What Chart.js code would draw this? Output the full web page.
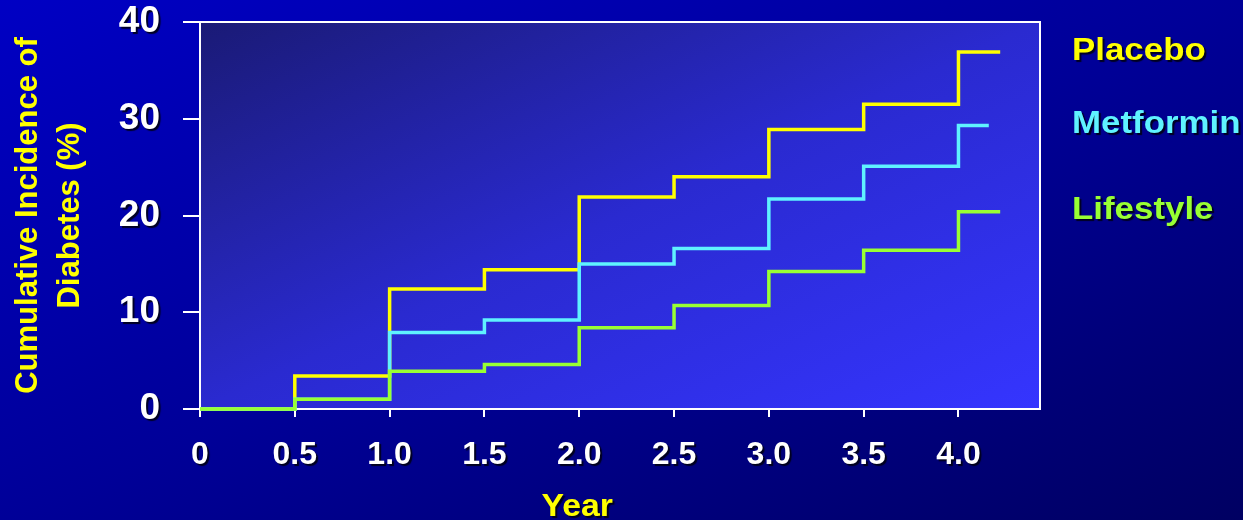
<!DOCTYPE html>
<html>
<head>
<meta charset="utf-8">
<script src="https://cdn.jsdelivr.net/npm/chart.js@4.4.1/dist/chart.umd.min.js"></script>
<style>
  html, body { margin: 0; padding: 0; }
  body {
    width: 1243px; height: 520px; overflow: hidden;
    background: linear-gradient(to bottom right, #0000c4 0%, #000098 50%, #000062 100%);
  }
  canvas { display: block; }
</style>
</head>
<body>
<canvas id="chart" width="1243" height="520"></canvas>
<script>
// Cumulative incidence of diabetes by treatment arm (step curves)
const years = [0, 0.5, 1.0, 1.5, 2.0, 2.5, 3.0, 3.5, 4.0];
const xTickLabels = ['0', '0.5', '1.0', '1.5', '2.0', '2.5', '3.0', '3.5', '4.0'];
const yTickValues = [0, 10, 20, 30, 40];
const yTickLabels = ['0', '10', '20', '30', '40'];

const seriesNames = ['Placebo', 'Metformin', 'Lifestyle'];
const placebo   = [0, 3.4, 12.4, 14.4, 21.9, 24.0, 28.9, 31.5, 36.9];
const metformin = [0, 1.0,  7.9,  9.2, 15.0, 16.6, 21.7, 25.1, 29.3];
const lifestyle = [0, 1.0,  3.9,  4.6,  8.4, 10.7, 14.2, 16.4, 20.4];
const lastFollowUp = [4.22, 4.16, 4.22];   // end of follow-up for each arm, years

const seriesValues = [placebo, metformin, lifestyle];
const seriesColors = ['#ffff00', '#5ff2ff', '#99ff33'];
const FONT = '"Liberation Sans", Arial, Helvetica, sans-serif';
const TEXT_WIDEN = 1.09;   // slightly widened lettering for the annotation text

function toSteps(values, endYear) {
  const pts = years.map((x, i) => ({ x: x, y: values[i] }));
  pts.push({ x: endYear, y: values[values.length - 1] });
  return pts;
}

function wideText(ctx, text, x, y, align) {
  ctx.save();
  ctx.translate(x, y);
  ctx.scale(TEXT_WIDEN, 1);
  ctx.textAlign = align;
  ctx.fillText(text, 0, 0);
  ctx.restore();
}

const plotFrame = {
  id: 'plotFrame',
  beforeDraw(chart) {
    const { ctx, chartArea: { left, top, right, bottom } } = chart;
    const w = right - left, h = bottom - top;
    const s = 2 * w * h / (w * w + h * h);
    const g = ctx.createLinearGradient(left, top, left + h * s, top + w * s);
    g.addColorStop(0, '#1a1a76');
    g.addColorStop(0.5, '#2a2ad0');
    g.addColorStop(1, '#3535ff');
    ctx.save();
    ctx.fillStyle = g;
    ctx.fillRect(left, top, w, h);
    ctx.restore();
  },
  afterDatasetsDraw(chart) {
    const { ctx, chartArea: { left, top, right, bottom } } = chart;
    ctx.save();
    ctx.strokeStyle = '#ffffff';
    ctx.lineWidth = 2;
    ctx.beginPath();
    ctx.moveTo(left, top);
    ctx.lineTo(right, top);
    ctx.lineTo(right, bottom + 1);
    ctx.stroke();
    ctx.restore();
    // tick labels (drawn next, z = 1) get a drop shadow
    ctx.save();
    ctx.shadowColor = 'rgba(0,0,20,0.9)';
    ctx.shadowOffsetX = 2;
    ctx.shadowOffsetY = 2;
    ctx.shadowBlur = 1;
  },
  afterDraw(chart) {
    const { ctx, scales: { x, y } } = chart;
    ctx.restore();
    ctx.save();
    ctx.shadowColor = 'rgba(0,0,20,0.9)';
    ctx.shadowOffsetX = 2;
    ctx.shadowOffsetY = 2;
    ctx.shadowBlur = 1;

    // x-axis title
    ctx.font = 'bold 31px ' + FONT;
    ctx.fillStyle = '#ffff00';
    ctx.textBaseline = 'alphabetic';
    wideText(ctx, 'Year', x.getPixelForValue(2.0) - 2, x.bottom - 4, 'center');

    // series names placed beside the end of each curve
    ctx.font = 'bold 32px ' + FONT;
    ctx.textBaseline = 'middle';
    seriesNames.forEach((name, k) => {
      const vals = seriesValues[k];
      ctx.fillStyle = seriesColors[k];
      wideText(ctx, name, chart.chartArea.right + 32, y.getPixelForValue(vals[vals.length - 1]) - 1, 'left');
    });
    ctx.restore();
  }
};

new Chart(document.getElementById('chart'), {
  type: 'line',
  data: {
    datasets: seriesNames.map((name, k) => ({
      label: name,
      data: toSteps(seriesValues[k], lastFollowUp[k]),
      borderColor: seriesColors[k],
      backgroundColor: seriesColors[k],
      borderWidth: 3.5,
      stepped: 'before',
      pointRadius: 0,
      fill: false,
      clip: false,
      order: seriesNames.length - 1 - k
    }))
  },
  options: {
    responsive: false,
    animation: false,
    events: [],
    layout: { padding: { top: 0, right: 203, left: 0, bottom: 0 } },
    plugins: {
      legend: { display: false },
      tooltip: { enabled: false }
    },
    scales: {
      x: {
        type: 'linear',
        min: 0,
        max: 4.43,
        afterBuildTicks: (s) => { s.ticks = years.map(v => ({ value: v })); },
        afterFit: (s) => { s.height = 111; },
        ticks: {
          color: '#ffffff',
          font: { family: FONT, size: 32, weight: 'bold' },
          padding: 19,
          z: 1,
          maxRotation: 0,
          autoSkip: false,
          callback: (v, i) => xTickLabels[i]
        },
        grid: { drawOnChartArea: false, drawTicks: true, tickLength: 8, color: '#ffffff', lineWidth: 2 },
        border: { display: true, color: '#ffffff', width: 2 }
      },
      y: {
        type: 'linear',
        min: 0,
        max: 40,
        afterBuildTicks: (s) => { s.ticks = yTickValues.map(v => ({ value: v })); },
        afterFit: (s) => { s.width = 200; s.paddingTop = 22; s.paddingBottom = 0; },
        ticks: {
          color: '#ffffff',
          font: { family: FONT, size: 37, weight: 'bold' },
          padding: 23,
          z: 1,
          callback: (v, i) => yTickLabels[i]
        },
        grid: { drawOnChartArea: false, drawTicks: true, tickLength: 17, color: '#ffffff', lineWidth: 2 },
        border: { display: true, color: '#ffffff', width: 2 },
        title: {
          display: true,
          text: ['Cumulative Incidence of', 'Diabetes (%)'],
          color: '#ffff00',
          font: { family: FONT, size: 31, weight: 'bold', lineHeight: 1.35 },
          padding: { top: 8, bottom: 0 }
        }
      }
    }
  },
  plugins: [plotFrame]
});
</script>
</body>
</html>
